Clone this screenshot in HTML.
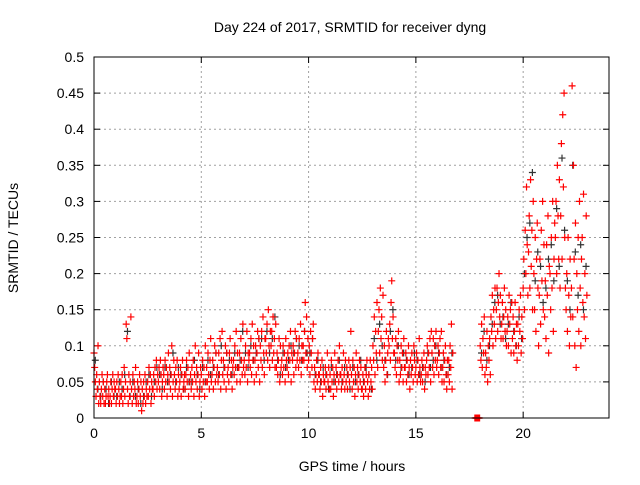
<!DOCTYPE html>
<html><head><meta charset="utf-8"><style>
body{margin:0;background:#fff;}
svg text{font-family:"Liberation Sans",sans-serif;font-size:14px;fill:#000;}
</style></head><body>
<svg id="c" width="640" height="480" xmlns="http://www.w3.org/2000/svg">
<rect width="640" height="480" fill="#fff"/>
<text x="350" y="32" text-anchor="middle">Day 224 of 2017, SRMTID for receiver dyng</text>
<text x="352" y="471" text-anchor="middle">GPS time / hours</text>
<text transform="translate(18,238) rotate(-90)" text-anchor="middle">SRMTID / TECUs</text>
<g id="grid"></g>
<g id="ticks"></g>
<g id="dark"></g>
<g id="red"></g>
<rect x="94" y="57" width="515" height="361" fill="none" stroke="#000" stroke-width="1"/>
</svg>
<script>
const xTicks=[0,5,10,15,20];
const yTicks=[0,0.05,0.1,0.15,0.2,0.25,0.3,0.35,0.4,0.45,0.5];
const yTickLabels=["0","0.05","0.1","0.15","0.2","0.25","0.3","0.35","0.4","0.45","0.5"];
const binTimes=[0,0.25,0.5,0.75,1,1.25,1.5,1.75,2,2.25,2.5,2.75,3,3.25,3.5,3.75,4,4.25,4.5,4.75,5,5.25,5.5,5.75,6,6.25,6.5,6.75,7,7.25,7.5,7.75,8,8.25,8.5,8.75,9,9.25,9.5,9.75,10,10.25,10.5,10.75,11,11.25,11.5,11.75,12,12.25,12.5,12.75,13,13.25,13.5,13.75,14,14.25,14.5,14.75,15,15.25,15.5,15.75,16,16.25,16.5,17.75,18,18.25,18.5,18.75,19,19.25,19.5,19.75,20,20.25,20.5,20.75,21,21.25,21.5,21.75,22,22.25,22.5,22.75];
const redValues=[
[.09,.07,.05,.03,.06,.04,.10,.02],[.05,.03,.02,.04,.06,.03,.05,.02],[.04,.02,.03,.05,.06,.03,.04,.02],[.03,.05,.02,.04,.06,.03,.05,.04],
[.04,.02,.05,.03,.06,.04,.02,.03],[.05,.03,.06,.02,.04,.07,.03,.05],[.13,.11,.04,.02,.06,.03,.05,.14],[.04,.02,.06,.03,.05,.04,.07,.02],
[.03,.05,.02,.04,.06,.03,.05,.01],[.04,.02,.05,.03,.06,.02,.04,.03],[.05,.03,.07,.04,.06,.02,.05,.04],[.04,.06,.03,.07,.05,.08,.04,.06],
[.05,.07,.04,.08,.06,.03,.05,.07],[.06,.04,.08,.05,.07,.03,.06,.09],[.05,.07,.04,.06,.10,.03,.05,.08],[.06,.04,.07,.05,.08,.03,.06,.04],
[.05,.07,.03,.06,.08,.04,.05,.06],[.04,.06,.08,.05,.07,.03,.09,.05],[.06,.04,.07,.05,.08,.03,.06,.10],[.05,.07,.04,.06,.09,.03,.05,.07],
[.06,.04,.08,.05,.07,.03,.10,.05],[.07,.05,.09,.06,.04,.08,.11,.05],[.06,.08,.04,.07,.10,.05,.09,.06],[.07,.05,.09,.06,.11,.04,.08,.12],
[.06,.08,.05,.07,.10,.04,.09,.06],[.07,.05,.09,.11,.06,.08,.04,.07],[.08,.06,.10,.07,.12,.05,.09,.07],[.07,.09,.05,.11,.08,.06,.13,.07],
[.08,.06,.10,.07,.12,.05,.09,.08],[.09,.07,.11,.06,.13,.08,.10,.05],[.08,.10,.06,.09,.12,.07,.11,.05],[.10,.08,.12,.07,.14,.09,.06,.11],
[.11,.09,.13,.08,.15,.10,.07,.12],[.10,.12,.08,.14,.09,.11,.07,.13],[.07,.09,.06,.08,.11,.05,.10,.07],[.08,.06,.10,.07,.09,.05,.11,.08],
[.07,.09,.06,.10,.08,.12,.05,.09],[.08,.10,.06,.09,.12,.07,.11,.08],[.09,.07,.11,.08,.13,.06,.10,.08],[.10,.08,.12,.16,.09,.14,.07,.11],
[.08,.10,.06,.12,.09,.07,.11,.13],[.05,.07,.04,.06,.08,.05,.09,.06],[.06,.04,.07,.05,.08,.03,.06,.05],[.05,.07,.04,.06,.09,.05,.07,.04],
[.06,.04,.08,.05,.07,.03,.06,.09],[.05,.07,.04,.06,.08,.05,.10,.06],[.06,.04,.07,.05,.09,.06,.04,.08],[.05,.07,.04,.06,.08,.05,.07,.12],
[.06,.04,.08,.05,.07,.03,.06,.09],[.05,.07,.04,.06,.08,.05,.07,.04],[.04,.06,.03,.05,.07,.04,.06,.08],[.05,.03,.06,.04,.08,.05,.07,.04],
[.10,.08,.14,.06,.12,.09,.16,.07],[.12,.15,.09,.18,.11,.14,.08,.17],[.07,.10,.05,.08,.12,.06,.09,.11],[.10,.13,.08,.16,.19,.11,.14,.09],
[.09,.07,.11,.06,.10,.08,.12,.05],[.08,.06,.10,.07,.09,.05,.11,.07],[.07,.09,.05,.08,.06,.10,.07,.04],[.08,.06,.09,.07,.05,.10,.08,.06],
[.07,.09,.05,.08,.06,.11,.07,.05],[.06,.08,.05,.07,.09,.04,.07,.06],[.08,.10,.06,.09,.07,.11,.05,.12],[.09,.07,.11,.06,.10,.08,.12,.07],
[.08,.10,.06,.09,.11,.07,.12,.05],[.07,.09,.05,.08,.10,.06,.04,.08],[.06,.08,.05,.10,.07,.13,.04,.09],
[0,0,0,0,0,0,0,0],
[.10,.08,.13,.07,.11,.09,.14,.06],[.09,.07,.12,.05,.10,.08,.11,.06],[.14,.12,.17,.10,.15,.13,.18,.11],[.15,.18,.12,.16,.20,.14,.17,.11],
[.13,.16,.11,.14,.18,.12,.15,.10],[.12,.14,.10,.17,.13,.15,.09,.16],[.11,.14,.09,.12,.16,.10,.13,.08],[.13,.10,.15,.12,.17,.09,.14,.11],
[.18,.22,.15,.26,.20,.32,.24,.17],[.23,.28,.18,.33,.21,.26,.15,.30],[.20,.15,.25,.12,.22,.27,.18,.10],[.17,.22,.13,.26,.19,.30,.15,.24],
[.14,.19,.11,.24,.17,.28,.09,.21],[.20,.15,.25,.18,.30,.12,.22,.27],[.25,.30,.20,.35,.28,.22,.33,.18],[.28,.38,.22,.42,.32,.45,.25,.18],
[.15,.20,.12,.25,.17,.10,.22,.14],[.18,.46,.14,.35,.22,.10,.27,.07],[.20,.15,.25,.12,.30,.18,.10,.22],[.25,.16,.31,.14,.20,.11,.28,.17]];
const darkValues=[
[.08,.04],[.03,.05],[.04,.02],[.05,.03],[.03,.05],[.04,.06],[.12,.03],[.05,.03],[.04,.02],[.03,.05],[.06,.03],[.05,.07],
[.06,.04],[.07,.05],[.06,.09],[.05,.07],[.06,.04],[.07,.05],[.05,.08],[.06,.04],[.07,.05],[.08,.06],[.07,.09],[.06,.10],
[.07,.09],[.08,.06],[.09,.07],[.08,.12],[.09,.07],[.10,.08],[.09,.11],[.11,.08],[.12,.09],[.11,.14],[.08,.06],[.09,.07],
[.08,.10],[.09,.11],[.10,.08],[.12,.09],[.09,.11],[.06,.08],[.05,.07],[.06,.04],[.07,.05],[.06,.08],[.05,.07],[.06,.04],
[.07,.05],[.06,.08],[.05,.07],[.06,.04],[.11,.08],[.13,.10],[.08,.06],[.12,.15],[.08,.10],[.07,.09],[.08,.06],[.07,.09],
[.08,.06],[.07,.05],[.09,.07],[.08,.10],[.09,.07],[.08,.06],[.07,.09],
[0,0],
[.09,.12],[.08,.10],[.13,.16],[.17,.13],[.14,.11],[.13,.16],[.12,.10],[.14,.11],
[.20,.25],[.27,.34],[.19,.23],[.21,.16],[.18,.22],[.24,.19],[.29,.21],[.36,.26],[.19,.15],[.35,.23],[.17,.24],[.15,.21]];

const X0=94,X1=609,Y0=418,Y1=57,XMAX=24,YMAX=0.5;
const xs=t=>X0+(t/XMAX)*(X1-X0);
const ys=v=>Y0-(v/YMAX)*(Y0-Y1);
const NS="http://www.w3.org/2000/svg";
function mk(tag,attrs,parent){const e=document.createElementNS(NS,tag);for(const k in attrs)e.setAttribute(k,attrs[k]);parent.appendChild(e);return e;}
const grid=document.getElementById('grid'),ticks=document.getElementById('ticks');
xTicks.forEach((t,i)=>{const x=xs(t);
 if(t>0){const g=mk('line',{x1:x,y1:Y0,x2:x,y2:Y1,stroke:'#a0a0a0','stroke-dasharray':'2,3'},grid);
 
 }
 mk('line',{x1:x,y1:Y0,x2:x,y2:Y0-6,stroke:'#000'},ticks);mk('line',{x1:x,y1:Y1,x2:x,y2:Y1+6,stroke:'#000'},ticks);
 const tx=mk('text',{x:x,y:Y0+20,'text-anchor':'middle'},ticks);tx.textContent=String(t);
 
 
});
yTicks.forEach((v,i)=>{const y=ys(v);
 if(v>0&&v<0.5){const g=mk('line',{x1:X0,y1:y,x2:X1,y2:y,stroke:'#a0a0a0','stroke-dasharray':'2,3'},grid);
 
 }
 mk('line',{x1:X0,y1:y,x2:X0+6,y2:y,stroke:'#000'},ticks);mk('line',{x1:X1,y1:y,x2:X1-6,y2:y,stroke:'#000'},ticks);
 const tx=mk('text',{x:X0-10,y:y+5,'text-anchor':'end'},ticks);tx.textContent=yTickLabels[i];
 
 
});
function plus(g,t,v,color){const x=xs(t),y=ys(v);
 const p=mk('path',{d:`M${x-3.5},${y}H${x+3.5}M${x},${y-3.5}V${y+3.5}`,stroke:color,'stroke-width':1.2,fill:'none'},g);
 
 }
const dg=document.getElementById('dark'),rg=document.getElementById('red');
binTimes.forEach((t,i)=>{darkValues[i].forEach((v,j)=>plus(dg,t+0.06+j*0.12,v,'#333333'));});
binTimes.forEach((t,i)=>{redValues[i].forEach((v,j)=>plus(rg,t+j*0.03125,v,'#ff0000'));});
</script>
</body></html>
